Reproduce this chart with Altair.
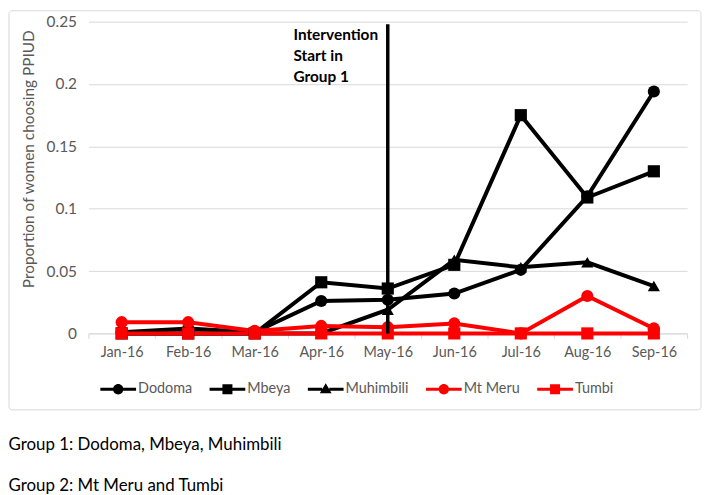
import altair as alt
import pandas as pd

months = ["Jan-16", "Feb-16", "Mar-16", "Apr-16", "May-16", "Jun-16", "Jul-16", "Aug-16", "Sep-16"]
sites = ["Dodoma", "Mbeya", "Muhimbili", "Mt Meru", "Tumbi"]

dodoma = [0.001, 0.004, 0.001, 0.026, 0.027, 0.032, 0.051, 0.110, 0.194]
mbeya = [0.0, 0.0, 0.0, 0.041, 0.036, 0.055, 0.175, 0.109, 0.130]
muhimbili = [0.0, 0.0, 0.0, 0.0, 0.019, 0.059, 0.053, 0.057, 0.038]
mt_meru = [0.009, 0.009, 0.002, 0.006, 0.005, 0.008, 0.0, 0.030, 0.004]
tumbi = [0.0, 0.0, 0.0, 0.0, 0.0, 0.0, 0.0, 0.0, 0.0]

site_colors = ["#000000", "#000000", "#000000", "#ff0000", "#ff0000"]
site_shapes = ["circle", "square", "triangle-up", "circle", "square"]

intervention_month = "May-16"
intervention_top = 0.248
annotation_lines = ["Intervention", "Start in", "Group 1"]
footnote_lines = ["Group 1: Dodoma, Mbeya, Muhimbili", "Group 2: Mt Meru and Tumbi"]

y_ticks = [0, 0.05, 0.1, 0.15, 0.2, 0.25]

series = [dodoma, mbeya, muhimbili, mt_meru, tumbi]
rows = []
for s, col, shp, vals in zip(sites, site_colors, site_shapes, series):
    for m, v in zip(months, vals):
        rows.append({"Site": s, "Hex": col, "Marker": shp, "Month": m, "Value": v})
df = pd.DataFrame(rows)

annot = pd.DataFrame({"Month": [intervention_month], "Top": [intervention_top], "Zero": [0.0]})

# legend symbols: line with marker (custom paths)
legend_paths = [
    "M-1,-0.09H-0.25V0.09H-1Z M0.25,-0.09H1V0.09H0.25Z M0.29,0A0.29,0.29 0 1,1 -0.29,0A0.29,0.29 0 1,1 0.29,0Z",
    "M-1,-0.09H-0.2V0.09H-1Z M0.2,-0.09H1V0.09H0.2Z M-0.28,-0.28H0.28V0.28H-0.28Z",
    "M-1,-0.09H-0.2V0.09H-1Z M0.2,-0.09H1V0.09H0.2Z M0,-0.34L0.33,0.22H-0.33Z",
    "M-1,-0.09H-0.25V0.09H-1Z M0.25,-0.09H1V0.09H0.25Z M0.29,0A0.29,0.29 0 1,1 -0.29,0A0.29,0.29 0 1,1 0.29,0Z",
    "M-1,-0.09H-0.2V0.09H-1Z M0.2,-0.09H1V0.09H0.2Z M-0.28,-0.28H0.28V0.28H-0.28Z",
]

FONT = "Lato"
GREY = "#595959"

band = alt.Scale(type="band", domain=months, paddingInner=0, paddingOuter=0)

x_enc = alt.X(
    "Month:N",
    sort=months,
    scale=band,
    axis=alt.Axis(
        title=None, labelAngle=0, labelFontSize=14.5, labelColor=GREY, labelFont=FONT,
        domainColor="#d9d9d9", tickColor="#d9d9d9", tickSize=5, tickBand="extent",
        labelPadding=7, grid=False,
    ),
)
y_enc = alt.Y(
    "Value:Q",
    scale=alt.Scale(domain=[0, 0.25], nice=False),
    axis=alt.Axis(
        values=y_ticks, format=".2~f", title="Proportion of women choosing PPIUD",
        titleFontSize=15.5, titleColor=GREY, titleFontWeight="normal", titleFont=FONT,
        titleX=-60, titleY=138, titleBaseline="middle",
        labelFontSize=15.5, labelColor=GREY, labelFont=FONT, labelPadding=12,
        domain=False, ticks=False, gridColor="#d9d9d9",
    ),
)
color_scale = alt.Scale(domain=sites, range=site_colors)

leg = alt.Legend(
    title=None, orient="none", legendX=12, legendY=352, direction="horizontal",
    symbolSize=1296, symbolStrokeWidth=0, labelFontSize=14.5, labelColor=GREY,
    labelFont=FONT, labelOffset=2, columnPadding=17, padding=0, symbolOpacity=1,
)

frame = alt.Chart(pd.DataFrame({"k": [0]})).mark_rect(
    fillOpacity=0, stroke="#d9d9d9", strokeWidth=1, cornerRadius=3
).encode(
    x=alt.value(-80), x2=alt.value(617), y=alt.value(-11), y2=alt.value(391)
)

lines = alt.Chart(df).mark_line(strokeWidth=4).encode(
    x=x_enc, y=y_enc,
    color=alt.Color("Hex:N", scale=None),
    detail="Site:N",
)

points = alt.Chart(df).mark_point(filled=True, size=150, opacity=1).encode(
    x=x_enc, y=y_enc,
    color=alt.Color("Hex:N", scale=None),
    shape=alt.Shape("Marker:N", scale=None),
)

legend_layer = alt.Chart(df).transform_filter("false").mark_point(filled=True, opacity=1).encode(
    color=alt.Color("Site:N", scale=color_scale, legend=leg),
    shape=alt.Shape("Site:N", scale=alt.Scale(domain=sites, range=legend_paths), legend=leg),
)

rule = alt.Chart(annot).mark_rule(color="black", strokeWidth=3.5).encode(
    x=alt.X("Month:N", sort=months, scale=band),
    y=alt.Y("Zero:Q"),
    y2="Top:Q",
)

label = alt.Chart(annot).mark_text(
    text=annotation_lines, align="left", baseline="top", dx=-95, dy=4,
    fontSize=15.5, fontWeight="bold", font=FONT, lineHeight=21, color="black",
).encode(
    x=alt.X("Month:N", sort=months, scale=band),
    y=alt.Y("Top:Q"),
)

chart = alt.layer(frame, lines, points, legend_layer, rule, label).properties(
    width=603, height=314, padding=0,
    title=alt.TitleParams(
        text=footnote_lines, orient="bottom", anchor="start", frame="bounds",
        fontSize=17, font=FONT, fontWeight="normal", color="black",
        baseline="top", offset=27, lineHeight=41,
    ),
).configure_view(stroke=None)

chart.save("out.html", embed_options={"renderer": "svg", "actions": False})
